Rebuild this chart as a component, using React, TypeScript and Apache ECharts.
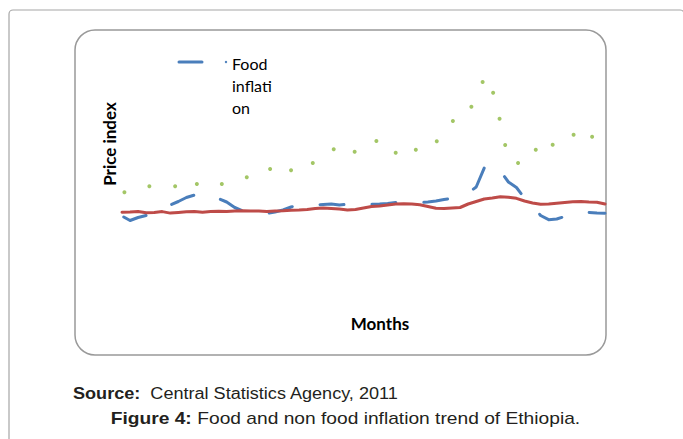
import React, { useEffect, useRef } from "react";
import * as echarts from "echarts";

// Month index (0 = first month of the period)
const monthIndex: number[] = Array.from({ length: 61 }, (_, i) => i);

// Blue dashed series (food)
const foodValues: number[] = [
  94, 89.5, 92.5, 94.5, 97, 101, 105, 108.5, 112.5, 115, 117, 115, 111.5, 108, 102.5,
  99, 98, 97, 96.5, 98, 100, 103, 105, 105, 105, 105.5, 106, 105, 105.7, 105.5,
  105.5, 105.7, 106, 106.5, 107.5, 107.5, 107.5, 107.3, 108, 109, 110.5, 111.7, 114, 117, 123,
  142, 147, 139, 128, 122.5, 112, 105, 94.5, 90.3, 91, 93.5, 96, 97.5, 97.5, 97, 96.7,
];

// Red solid series (non food)
const nonFoodValues: number[] = [
  97.7, 98, 98.6, 97.2, 97.6, 98.4, 96.9, 97.6, 98.3, 98.6, 97.8, 98.6, 98.7, 98.5, 99.1,
  99.3, 98.9, 99.1, 98.6, 98.9, 99.2, 99.7, 100, 100.5, 101.5, 102, 101.5, 101, 100, 100.5,
  102, 103.5, 104, 105, 106, 106.3, 106, 105.3, 103.5, 101.7, 101.5, 102, 102.5, 106, 108.5,
  111, 112, 113.2, 112.8, 111.7, 109, 107, 105.7, 106, 106.7, 107.5, 108.3, 108.5, 108, 107.8, 106,
];

// Green dotted series (food inflation)
const inflationMonths: number[] = [
  0.3, 3.4, 6.6, 9.3, 12.4, 15.5, 18.4, 21.0, 23.7, 26.3, 28.9, 31.6, 34.0,
  36.5, 39.1, 41.1, 43.4, 44.8, 46.1, 46.9, 47.6, 49.2, 51.4, 53.5, 56.1, 58.4,
];
const inflationValues: number[] = [
  117.7, 123.7, 123.7, 126, 126, 132.7, 141, 139.7, 147, 160.7, 158.3, 169, 157.3,
  160.3, 168.7, 189, 203.3, 228, 217.3, 191.3, 165, 147, 160.3, 165.3, 175.3, 173.3,
];

const legendLabel = "Food\ninflati\non";
const yAxisTitle = "Price index";
const xAxisTitle = "Months";
const sourceText = "Central Statistics Agency, 2011";
const figureText = "Food and non food inflation trend of Ethiopia.";

export default function App() {
  const ref = useRef<HTMLDivElement>(null);

  useEffect(() => {
    if (!ref.current) return;
    const chart = echarts.init(ref.current, null, { renderer: "svg" });
    const blue = "#4a7ebb";
    const red = "#be4b48";
    const green = "#8cb840";
    const calibri = "Lato, 'Open Sans', sans-serif";
    const arial = "'Liberation Sans', Arial, sans-serif";

    chart.setOption({
      animation: false,
      backgroundColor: "#ffffff",
      grid: { left: 122, top: 60, width: 483, height: 250 },
      xAxis: { type: "value", min: 0, max: 60, show: false },
      yAxis: { type: "value", min: 0, max: 250, show: false },
      series: [
        {
          type: "line",
          name: "Food",
          data: monthIndex.map((m, i) => [m, foodValues[i]]),
          symbol: "none",
          lineStyle: {
            color: blue,
            width: 3,
            type: [24, 28],
            dashOffset: -2,
            cap: "round",
            join: "round",
          },
          z: 2,
        },
        {
          type: "line",
          name: "Non food",
          data: monthIndex.map((m, i) => [m, nonFoodValues[i]]),
          symbol: "none",
          lineStyle: { color: red, width: 3, cap: "round", join: "round" },
          z: 3,
        },
        {
          type: "scatter",
          name: "Food inflation",
          data: inflationMonths.map((m, i) => [m, inflationValues[i]]),
          symbol: "circle",
          symbolSize: 4,
          itemStyle: { color: green },
          z: 4,
        },
      ],
      graphic: [
        {
          type: "rect",
          shape: { x: 9, y: 10, width: 675, height: 470, r: 4 },
          style: { fill: "none", stroke: "#a6a6a6", lineWidth: 1.2 },
          z: -10,
        },
        {
          type: "rect",
          shape: { x: 75, y: 30, width: 531, height: 325, r: 20 },
          style: { fill: "none", stroke: "#999999", lineWidth: 1.5 },
          z: -9,
        },
        {
          type: "line",
          shape: { x1: 179, y1: 62, x2: 202, y2: 62 },
          style: { stroke: blue, lineWidth: 3, lineCap: "round" },
        },
        {
          type: "circle",
          shape: { cx: 226, cy: 62, r: 1.2 },
          style: { fill: blue },
        },
        {
          type: "text",
          x: 232,
          y: 52,
          style: {
            text: legendLabel,
            font: `16px ${calibri}`,
            lineHeight: 22,
            fill: "#000000",
            textAlign: "left",
            textVerticalAlign: "top",
          },
        },
        {
          type: "text",
          x: 109,
          y: 144,
          rotation: Math.PI / 2,
          style: {
            text: yAxisTitle,
            font: `bold 17px ${calibri}`,
            fill: "#000000",
            textAlign: "center",
            textVerticalAlign: "middle",
          },
        },
        {
          type: "text",
          x: 380,
          y: 323,
          style: {
            text: xAxisTitle,
            font: `bold 17px ${calibri}`,
            fill: "#000000",
            textAlign: "center",
            textVerticalAlign: "middle",
          },
        },
        {
          type: "text",
          x: 73,
          y: 393.5,
          scaleX: 1.13,
          style: {
            text: `{b|Source:}  ${sourceText}`,
            font: `16px ${arial}`,
            fill: "#231f20",
            textAlign: "left",
            textVerticalAlign: "middle",
            rich: { b: { font: `bold 16px ${arial}`, fill: "#231f20" } },
          },
        },
        {
          type: "text",
          x: 345.5,
          y: 419,
          scaleX: 1.2,
          style: {
            text: `{b|Figure 4:} ${figureText}`,
            font: `16px ${arial}`,
            fill: "#231f20",
            textAlign: "center",
            textVerticalAlign: "middle",
            rich: { b: { font: `bold 16px ${arial}`, fill: "#231f20" } },
          },
        },
      ],
    });
    return () => chart.dispose();
  }, []);

  return (
    <div
      ref={ref}
      style={{ position: "fixed", left: 0, top: 0, width: 683, height: 439 }}
    />
  );
}
